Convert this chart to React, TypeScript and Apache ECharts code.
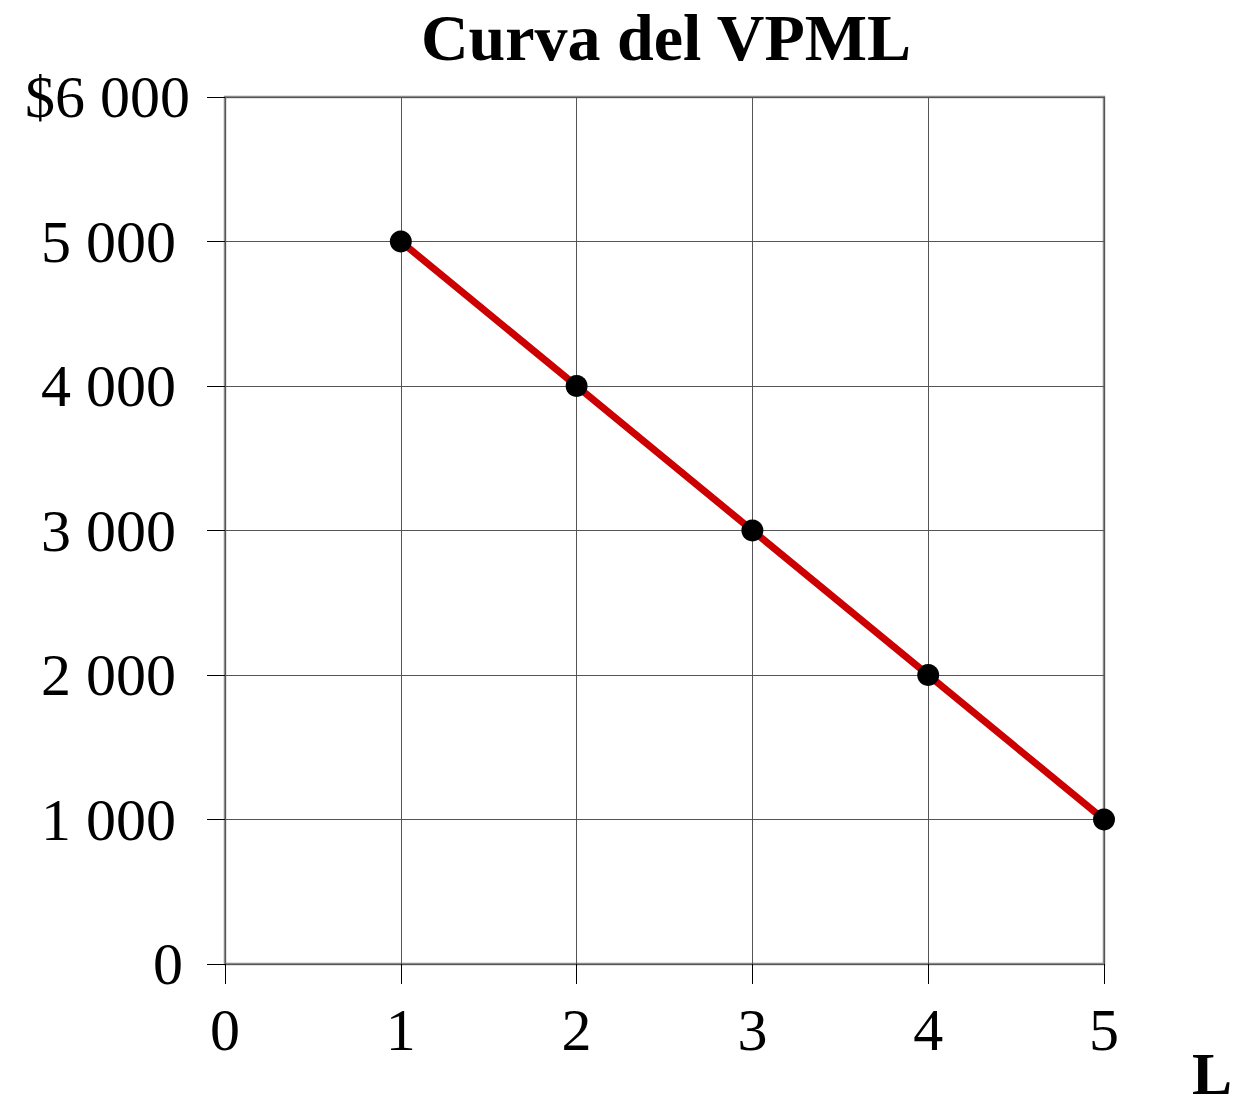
import React, { useEffect, useRef } from "react";
import * as echarts from "echarts";

const workers = [1, 2, 3, 4, 5];
const vpml = [5000, 4000, 3000, 2000, 1000];
const yTickLabels = ["0", "1 000", "2 000", "3 000", "4 000", "5 000", "$6 000"];
const xTickLabels = ["0", "1", "2", "3", "4", "5"];
const titleText = "Curva del VPML";
const xAxisName = "L";

const FONT = "'Liberation Serif', 'Times New Roman', serif";

export default function App() {
  const ref = useRef<HTMLDivElement>(null);
  useEffect(() => {
    if (!ref.current) return;
    const chart = echarts.init(ref.current, null, { renderer: "svg" });
    const labelBase = { fontFamily: FONT, fontSize: 60, color: "#000" };
    chart.setOption({
      animation: false,
      backgroundColor: "#ffffff",
      grid: {
        left: 225,
        right: 152,
        top: 97,
        bottom: 146,
        show: true,
        borderColor: "#8a8a8a",
        borderWidth: 2.5,
        backgroundColor: "transparent",
      },
      xAxis: {
        type: "value",
        min: 0,
        max: 5,
        interval: 1,
        axisLine: { show: false },
        axisTick: { show: true, length: 20, inside: false, lineStyle: { color: "#000", width: 1 } },
        splitLine: { show: true, lineStyle: { color: "#555", width: 1 } },
        axisLabel: {
          margin: 36,
          ...labelBase,
          formatter: (v: number) => xTickLabels[Math.round(v)] ?? "",
        },
      },
      yAxis: {
        type: "value",
        min: 0,
        max: 6000,
        interval: 1000,
        axisLine: { show: false },
        axisTick: { show: true, length: 18, inside: false, lineStyle: { color: "#000", width: 1 } },
        splitLine: { show: true, lineStyle: { color: "#555", width: 1 } },
        axisLabel: {
          margin: 35,
          ...labelBase,
          formatter: (v: number) => {
            const i = Math.round(v / 1000);
            const t = yTickLabels[i] ?? "";
            if (i === 6) return `{top|${t}}`;
            if (i === 0) return `{zero|${t}}`;
            return `{mid|${t}}`;
          },
          rich: {
            top: { ...labelBase, padding: [0, 0, 0, 0] },
            zero: { ...labelBase, padding: [0, 7, 0, 0] },
            mid: { ...labelBase, padding: [0, 14, 0, 0] },
          },
        },
      },
      graphic: [
        {
          type: "text",
          style: {
            x: 666,
            y: 37,
            text: titleText,
            font: `bold 66px ${FONT}`,
            fill: "#000",
            align: "center",
            verticalAlign: "middle",
          },
        },
        {
          type: "text",
          style: {
            x: 1212,
            y: 1074,
            text: xAxisName,
            font: `bold 60px ${FONT}`,
            fill: "#000",
            align: "center",
            verticalAlign: "middle",
          },
        },
      ],
      series: [
        {
          type: "line",
          data: workers.map((x, i) => [x, vpml[i]]),
          lineStyle: { color: "#cc0000", width: 7 },
          itemStyle: { color: "#000" },
          symbol: "circle",
          symbolSize: 22,
          clip: false,
          z: 5,
        },
      ],
    });
    return () => chart.dispose();
  }, []);
  return (
    <div
      ref={ref}
      style={{ position: "absolute", left: 0, top: 0, width: 1256, height: 1110 }}
    />
  );
}
